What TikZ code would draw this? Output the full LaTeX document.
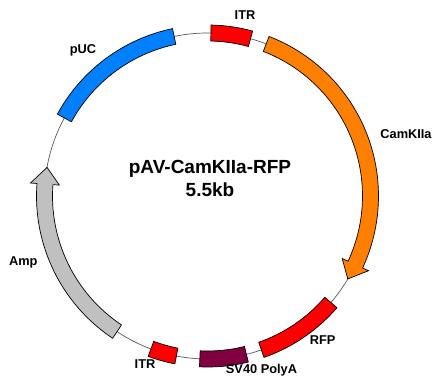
\documentclass[tikz,border=0pt]{standalone}
\usepackage{fontspec}
\setmainfont{Liberation Sans}
\definecolor{pucblue}{RGB}{0,128,255}
\definecolor{itrred}{RGB}{255,0,0}
\definecolor{camorange}{RGB}{255,128,0}
\definecolor{svmaroon}{RGB}{128,0,64}
\definecolor{ampgray}{RGB}{192,192,192}
\definecolor{ringgray}{RGB}{90,90,90}
\newcommand\plasband[3]{%
  \filldraw[band, fill=#3] ([shift={(C)}]#1:171pt) arc[start angle=#1, end angle=#2, radius=171pt]
    -- ([shift={(C)}]#2:155pt) arc[start angle=#2, end angle=#1, radius=155pt] -- cycle;}
\newcommand\plasarrow[4]{%
  \filldraw[band, fill=#4] ([shift={(C)}]#1:171pt) arc[start angle=#1, end angle=#2, radius=171pt]
    -- ([shift={(C)}]#2:177.5pt) -- ([shift={(C)}]#3:163pt) -- ([shift={(C)}]#2:148.5pt)
    -- ([shift={(C)}]#2:155pt) arc[start angle=#2, end angle=#1, radius=155pt] -- cycle;}
\begin{document}
\begin{tikzpicture}[x=1pt,y=1pt,
  band/.style={draw=black, line width=0.7pt, line join=miter},
  lbl/.style={font=\bfseries\fontsize{12.8}{14}\selectfont, inner sep=0pt},
  ttl/.style={font=\bfseries\fontsize{19}{21}\selectfont, inner sep=0pt}]
\useasboundingbox[fill=white] (0,0) rectangle (442,388);
\coordinate (C) at (207.5,192);
\draw[ringgray, line width=0.7pt] (C) circle[radius=163pt];
% features
\plasband{101.8}{151.4}{pucblue}
\plasband{88.8}{74.7}{itrred}
\plasarrow{68.9}{-24.9}{-30.6}{camorange}
\plasband{-40.8}{-70.7}{itrred}
\plasband{-76.2}{-92.7}{svmaroon}
\plasband{-101}{-110.3}{itrred}
\plasarrow{236.3}{175.8}{169.9}{ampgray}
% labels
\node[lbl] (lpuc) at (83,338) {pUC};
\node[lbl] (litrtop) at (245,373) {ITR};
\node[lbl] (lcam) at (406,254) {CamKIIa};
\node[lbl] (lrfp) at (322.7,48.3) {RFP};
\node[lbl] (lsv) at (261.5,18) {SV40 PolyA};
\node[lbl] (litrbot) at (145,24) {ITR};
\node[lbl] (lamp) at (23.3,125.7) {Amp};
\node[ttl] (title) at (210,218.7) {pAV-CamKIIa-RFP};
\node[ttl] (size) at (210,198) {5.5kb};
\end{tikzpicture}
\end{document}
